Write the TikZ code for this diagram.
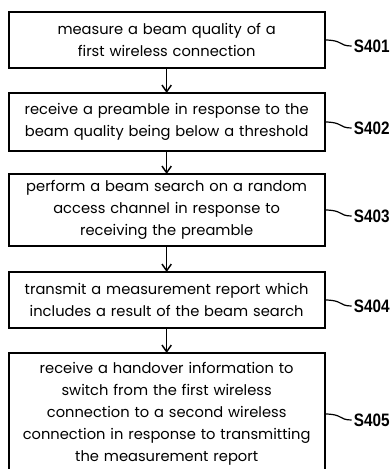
\documentclass[tikz,border=0pt]{standalone}
\usepackage{fontspec}
\setmainfont{Poppins}
\newfontfamily\labelfont{Liberation Sans}
\usetikzlibrary{shapes,arrows,arrows.meta,positioning}

\begin{document}
\begin{tikzpicture}[node distance=18.75pt, auto]
% Define styles
\tikzstyle{stepbox} = [rectangle, minimum width=237pt, text width=228pt, align=center, draw=black, line width=1.4pt, inner sep=2pt, outer sep=0pt, font=\fontsize{11pt}{16.5pt}\selectfont]
\tikzstyle{steplabel} = [anchor=west, inner sep=0pt, font=\labelfont\bfseries\fontsize{13.5pt}{13.5pt}\selectfont, xscale=0.85]
\tikzstyle{arrow} = [line width=1.1pt, -{Straight Barb[length=5pt, width=7pt]}]
\tikzstyle{tildeline} = [line width=0.9pt]

\useasboundingbox (0,0) rectangle (294pt,-351.75pt);
\coordinate (topleft) at (0,0);

% Place nodes
\node (measure) [stepbox, minimum height=42pt, below right=9pt and 6.5pt of topleft] {measure a beam quality of a\\first wireless connection};
\node (preamble) [stepbox, minimum height=43.5pt, below=of measure] {receive a preamble in response to the\\beam quality being below a threshold};
\node (search) [stepbox, minimum height=54pt, below=17.25pt of preamble] {perform a beam search on a random\\access channel in response to\\receiving the preamble};
\node (report) [stepbox, minimum height=42pt, below=19.5pt of search] {transmit a measurement report which\\includes a result of the beam search};
\node (handover) [stepbox, minimum height=91.5pt, below=of report] {receive a handover information to\\switch from the first wireless\\connection to a second wireless\\connection in response to transmitting\\the measurement report};

% Step labels
\node (s401) [steplabel, right=21.75pt of measure.east, yshift=-4.5pt] {S401};
\node (s402) [steplabel, right=21.75pt of preamble.east, yshift=-4.5pt] {S402};
\node (s403) [steplabel, right=21.75pt of search.east, yshift=-4.5pt] {S403};
\node (s404) [steplabel, right=21.75pt of report.east, yshift=-4.5pt] {S404};
\node (s405) [steplabel, right=21.75pt of handover.east, yshift=-4.5pt] {S405};

% Draw arrows
\draw [arrow] (measure) -- (preamble);
\draw [arrow] (preamble) -- (search);
\draw [arrow] (search) -- (report);
\draw [arrow] (report) -- (handover);

% Label leaders
\foreach \stepnode/\lab in {measure/s401, preamble/s402, search/s403, report/s404, handover/s405}
  \draw [tildeline] (\stepnode.east) .. controls +(14pt,0) and +(-10pt,0) .. ([xshift=-1.5pt]\lab.west);
\end{tikzpicture}
\end{document}
